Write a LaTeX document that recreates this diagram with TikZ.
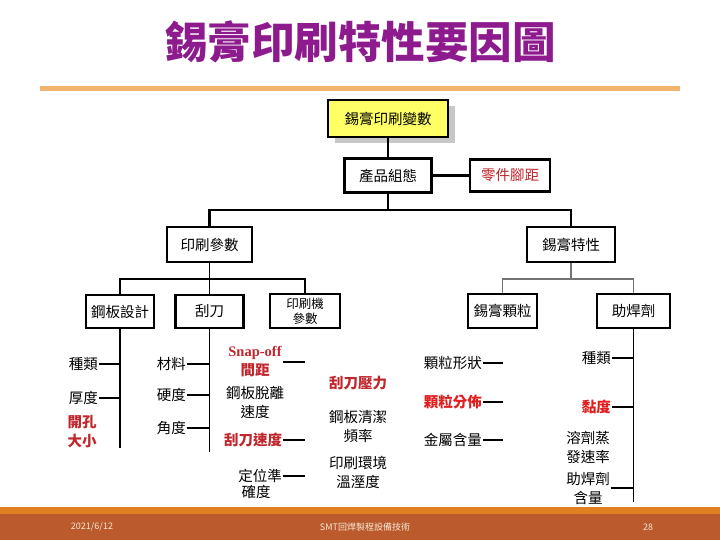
\documentclass[tikz,border=0pt]{standalone}
\usepackage{fontspec}
\newfontfamily\cjk{Noto Sans CJK TC}
\newfontfamily\latin{Liberation Serif}
\usetikzlibrary{positioning,shadows}
\definecolor{titlepurple}{HTML}{8E1B8E}
\definecolor{keyred}{HTML}{C0262C}
\definecolor{brightred}{HTML}{E01E1E}
\definecolor{ruleorange}{HTML}{F0B46E}
\definecolor{footorange}{HTML}{E07F1F}
\definecolor{footbrown}{HTML}{BA5A2D}
\definecolor{foottext}{HTML}{F6E7D2}
\definecolor{boxyellow}{HTML}{FFFF66}

\begin{document}
\begin{tikzpicture}[x=1pt, y=-1pt,
  font=\cjk\fontsize{14.5}{17}\selectfont,
  box/.style={draw, line width=2.4pt, fill=white, align=center, inner sep=2pt},
  topbox/.style={box, fill=boxyellow,
                 drop shadow={shadow xshift=7pt, shadow yshift=-6pt, fill=black!22, opacity=1}},
  item/.style={align=center, inner sep=1pt, font=\cjk\fontsize{14.5}{19}\selectfont},
  hot/.style={item, text=keyred, font=\cjk\bfseries\fontsize{14.5}{19}\selectfont},
  trunk/.style={line width=2.4pt},
  twig/.style={line width=1.1pt},
  foot/.style={font=\cjk\fontsize{9}{9}\selectfont, text=foottext},
]
\useasboundingbox (0,0) rectangle (720,540);
\fill[white] (0,0) rectangle (720,540);
% title
\node[font=\cjk\bfseries\fontsize{43.5}{43.5}\selectfont, text=titlepurple] (title) at (360,42) {錫膏印刷特性要因圖};
\fill[ruleorange] (40,86) rectangle (680,91);
% upper tree
\node[topbox, minimum width=120, minimum height=37] (vars) at (388,118.5) {錫膏印刷變數};
\node[box, minimum width=87, minimum height=34] (prod) at (388,175.5) {產品組態};
\node[box, minimum width=80, minimum height=32, text=keyred] (pitch) at (510,175.5) {零件腳距};
\node[box, minimum width=85, minimum height=35] (print) at (209.5,244.5) {印刷參數};
\node[box, minimum width=88, minimum height=35] (paste) at (571,244.5) {錫膏特性};
% second level
\node[box, minimum width=68, minimum height=33] (stencil) at (120,311.5) {鋼板設計};
\node[box, minimum width=68, minimum height=33] (squeegee) at (209.5,311.5) {刮刀};
\node[box, minimum width=70, minimum height=34, font=\cjk\fontsize{12.5}{15}\selectfont] (machine) at (305,311) {印刷機\\參數};
\node[box, minimum width=69, minimum height=34] (grain) at (502.5,311) {錫膏顆粒};
\node[box, minimum width=73, minimum height=34] (flux) at (633.5,311) {助焊劑};

\coordinate (split) at (388,210);
\coordinate (lsplit) at (209.5,279);
\coordinate (rsplit) at (571,279);
\coordinate (stencilend) at (120,448);
\coordinate (squeegeeend) at (209.5,452);
\coordinate (fluxend) at (633.5,502);

\draw[trunk] (vars) -- (prod);
\draw[trunk] (prod) -- (pitch);
\draw[trunk] (prod) -- (split);
\draw[trunk] (split) -| (print);
\draw[trunk] (split) -| (paste);
\draw[twig] (print) -- (lsplit);
\draw[twig] (lsplit) -| (stencil);
\draw[twig] (lsplit) -- (squeegee);
\draw[twig] (lsplit) -| (machine);
\draw[twig, black!55] (paste) -- (rsplit);
\draw[twig, black!55] (rsplit) -| (grain);
\draw[twig, black!55] (rsplit) -| (flux);
\draw[twig] (stencil) -- (stencilend);
\draw[twig] (squeegee) -- (squeegeeend);
\draw[twig] (flux) -- (fluxend);

% stencil design
\node[item, anchor=east] (kind) at (99,364) {種類};
\node[item, anchor=east] (thick) at (99,398) {厚度};
\node[hot] (aperture) at (82,432) {開孔\\大小};
\draw[twig] (kind) -- (kind -| stencil);
\draw[twig] (thick) -- (thick -| stencil);
% squeegee
\node[item, anchor=east] (material) at (187,364) {材料};
\node[item, anchor=east] (hardness) at (187,395) {硬度};
\node[item, anchor=east] (angle) at (187,428) {角度};
\draw[twig] (material) -- (material -| squeegee);
\draw[twig] (hardness) -- (hardness -| squeegee);
\draw[twig] (angle) -- (angle -| squeegee);
% printer parameters
\node[hot] (snap) at (255,362) {{\latin\bfseries Snap-off}\\間距};
\node[item] (release) at (255,402) {鋼板脫離\\速度};
\node[hot] (speed) at (253,440) {刮刀速度};
\node[item] (place) at (260,476) {定位準};
\node[item, below=0pt of place, xshift=-4pt] (place2) {確度};
\draw[twig] (snap) -- (snap -| machine);
\draw[twig] (speed) -- (speed -| machine);
\draw[twig] (place) -- (place -| machine);
\node[hot] (pressure) at (358,383) {刮刀壓力};
\node[item] (clean) at (358,427) {鋼板清潔\\頻率};
\node[item] (climate) at (358,472) {印刷環境\\溫溼度};
% solder grain
\node[item, anchor=east] (shape) at (483,363) {顆粒形狀};
\node[hot, text=brightred, anchor=east] (spread) at (483,402) {顆粒分佈};
\node[item, anchor=east] (metal) at (483,440) {金屬含量};
\draw[twig] (shape) -- (shape -| grain);
\draw[twig] (spread) -- (spread -| grain);
\draw[twig] (metal) -- (metal -| grain);
% flux
\node[item, anchor=east] (fkind) at (612,358) {種類};
\node[hot, text=brightred, anchor=east] (viscosity) at (612,407) {黏度};
\node[item] (solvent) at (588,447) {溶劑蒸\\發速率};
\node[item] (content) at (588,488) {助焊劑\\含量};
\draw[twig] (fkind) -- (fkind -| flux);
\draw[twig] (viscosity) -- (viscosity -| flux);
\draw[twig] (content) -- (content -| flux);
% footer
\fill[footorange] (0,507) rectangle (720,514);
\fill[footbrown] (0,514) rectangle (720,540);
\node[foot] (date) at (92,527) {2021/6/12};
\node[foot] (course) at (365,527) {SMT回焊製程設備技術};
\node[foot] (page) at (648,527) {28};
\end{tikzpicture}
\end{document}
